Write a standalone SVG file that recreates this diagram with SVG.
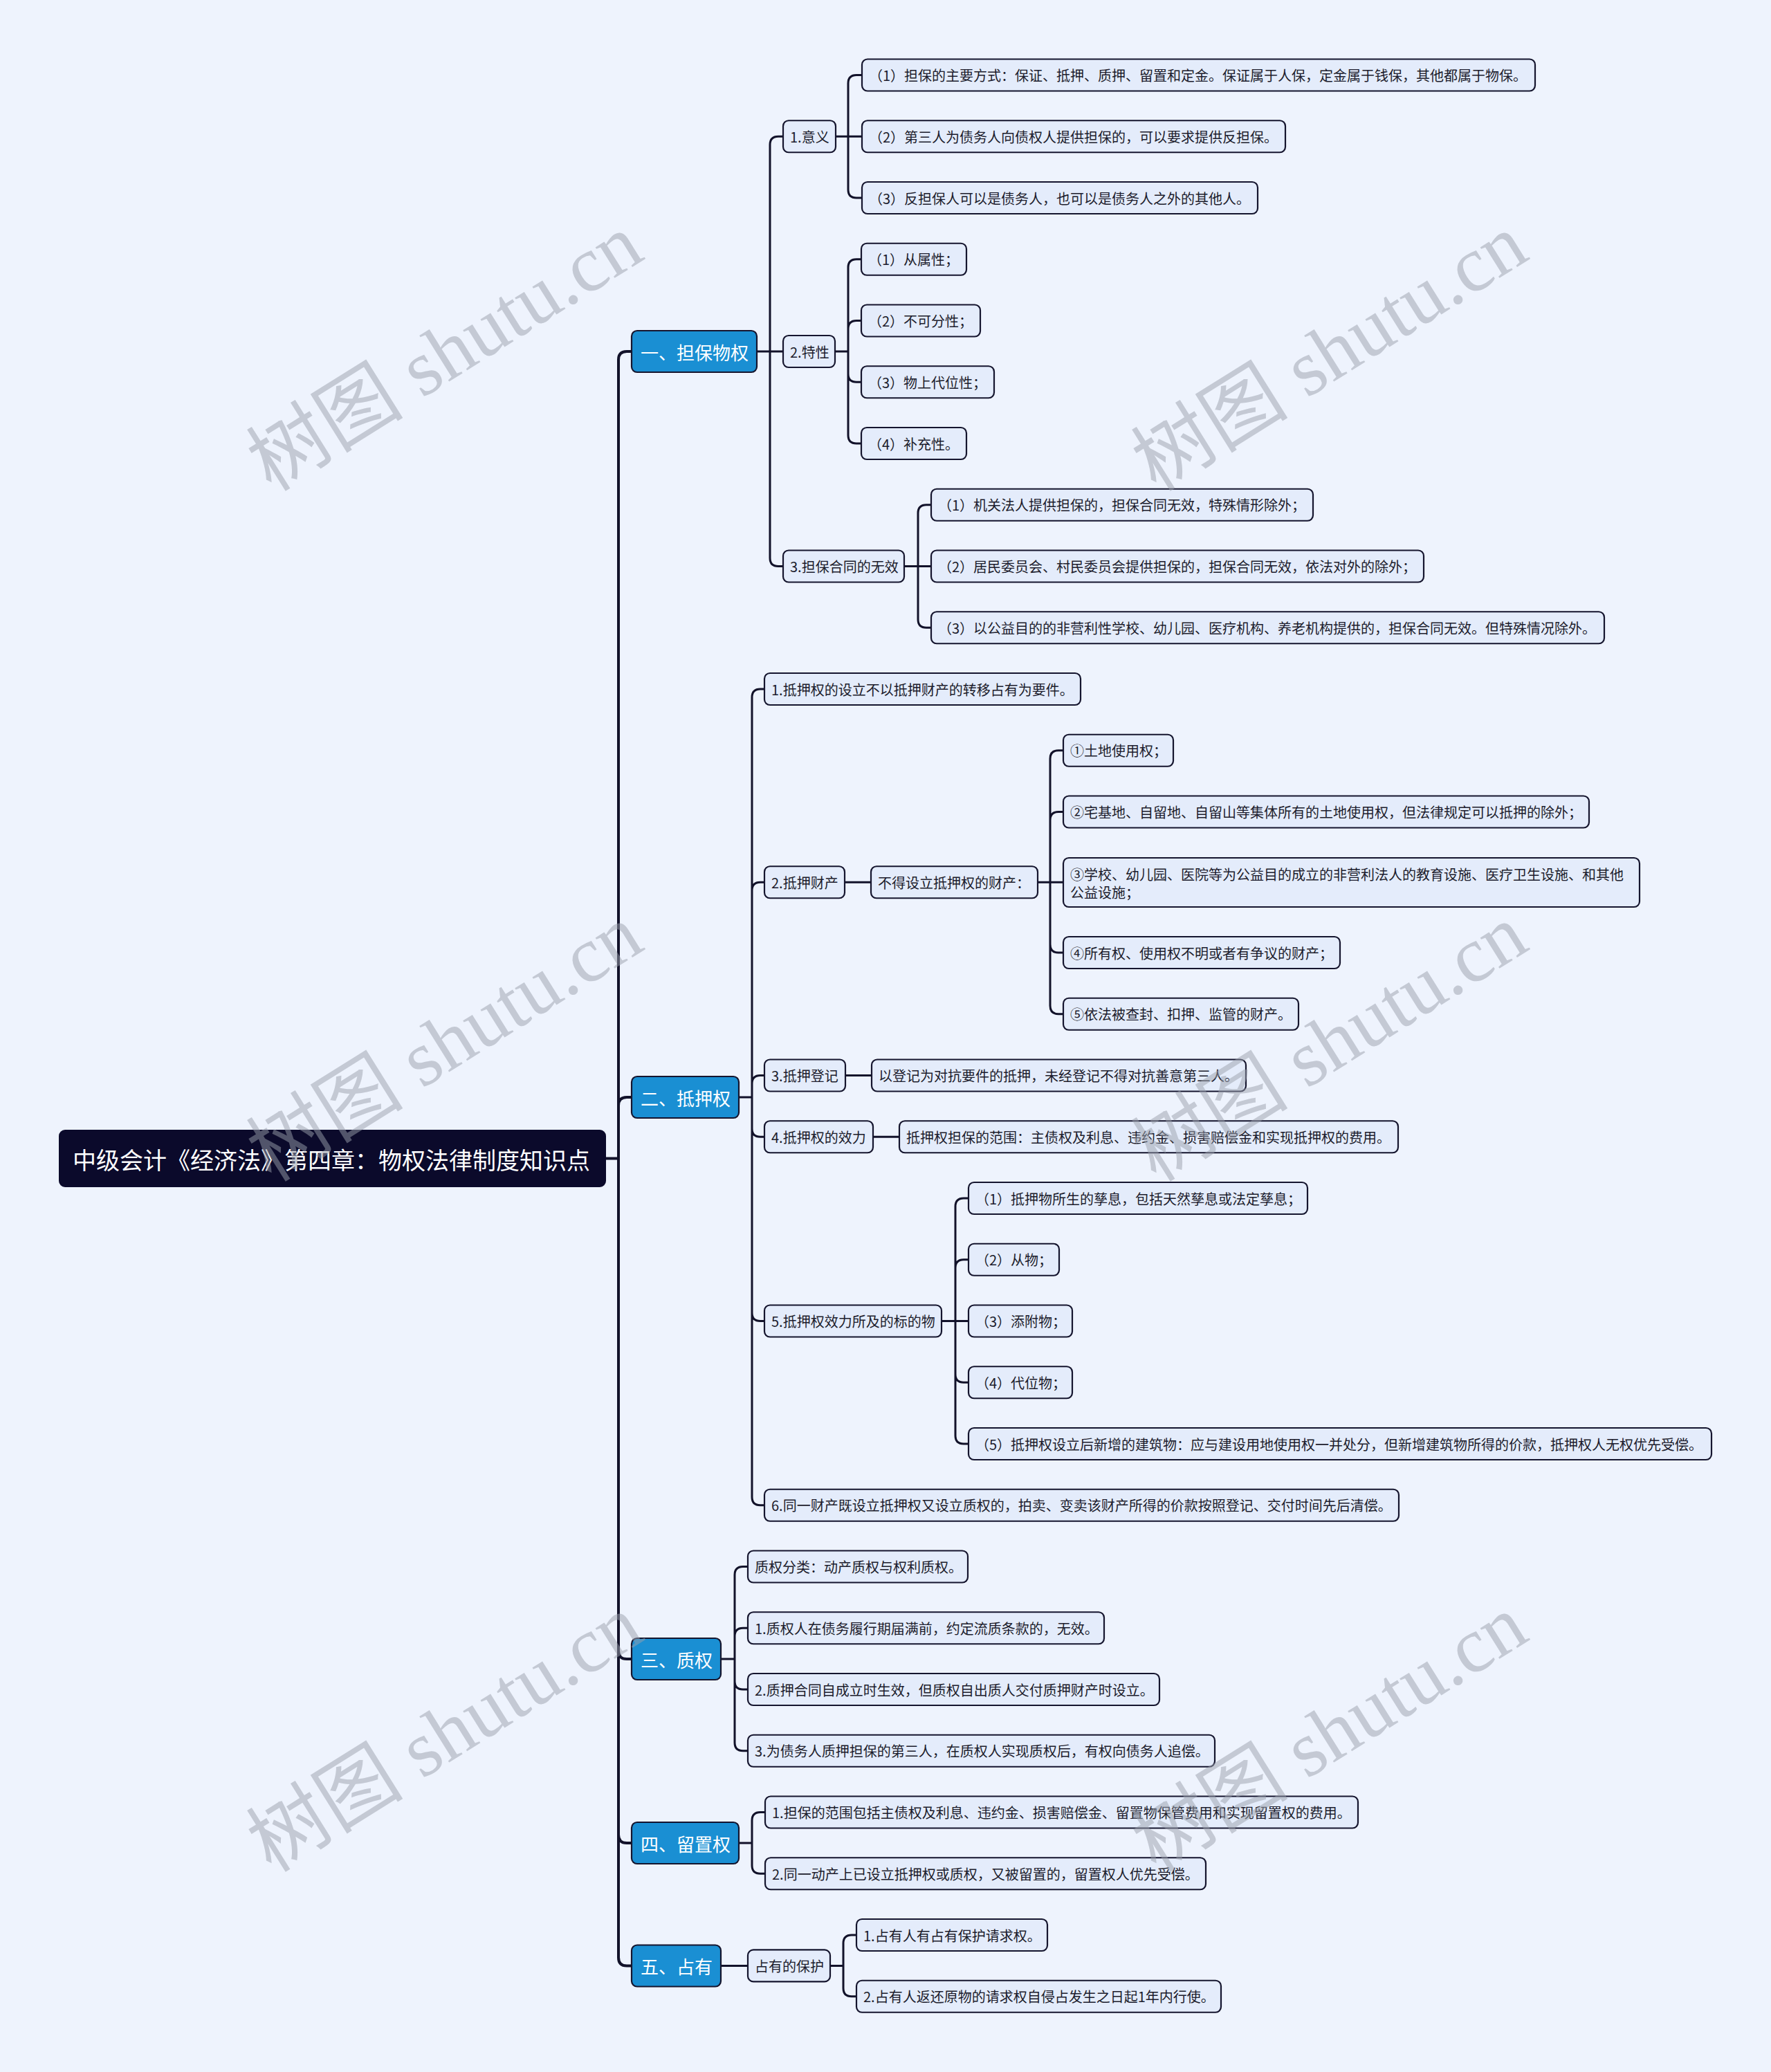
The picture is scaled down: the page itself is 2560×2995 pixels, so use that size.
<svg xmlns="http://www.w3.org/2000/svg" width="2560" height="2995" viewBox="0 0 2560 2995">
<style>
.bg{fill:#eef3fd}
.leaf rect{fill:#e4ecfb;stroke:#15152e;stroke-width:2.2}
.leaf text{font-family:"Noto Sans CJK SC","Liberation Sans",sans-serif;font-size:20px;fill:#1c1c2c;dominant-baseline:central}
.main rect{fill:#1a8fd3;stroke:#15152e;stroke-width:2.2}
.main text{font-family:"Noto Sans CJK SC","Liberation Sans",sans-serif;font-size:26px;fill:#ffffff;dominant-baseline:central}
.root rect{fill:#0b0a2b;stroke:#0b0a2b;stroke-width:2}
.root text{font-family:"Noto Sans CJK SC","Liberation Sans",sans-serif;font-size:34px;fill:#ffffff;dominant-baseline:central}
.conn path{fill:none;stroke:#12122a;stroke-width:3;stroke-linecap:round;stroke-linejoin:round}
.wm text{font-family:"Liberation Serif","Noto Sans CJK SC",serif;font-size:114px;fill:#9aa0ab;fill-opacity:0.5;text-anchor:middle;dominant-baseline:central}
</style>
<rect class="bg" x="0" y="0" width="2560" height="2995"/>

<g id="connectors" class="conn">
<path style="stroke-width:4" d="M875,1674.6 H894 M894,1674.6 V520 Q894,508 906,508 H913 M894,1674.6 V1598 Q894,1586 906,1586 H913 M894,1674.6 V2386 Q894,2398 906,2398 H913 M894,1674.6 V2652 Q894,2664 906,2664 H913 M894,1674.6 V2829.5 Q894,2841.5 906,2841.5 H913"/>
<path d="M1094,508 H1132 M1113,508 V209.25 Q1113,197.25 1125,197.25 H1132 M1113,508 V806.5 Q1113,818.5 1125,818.5 H1132"/>
<path d="M1208,197.25 H1246 M1226,197.25 V120.5 Q1226,108.5 1238,108.5 H1246 M1226,197.25 V274 Q1226,286 1238,286 H1246"/>
<path d="M1207,508 H1226 M1226,508 V386.75 Q1226,374.75 1238,374.75 H1245 M1226,508 V475.5 Q1226,463.5 1238,463.5 H1245 M1226,508 V540.25 Q1226,552.25 1238,552.25 H1245 M1226,508 V629 Q1226,641 1238,641 H1245"/>
<path d="M1307,818.5 H1346 M1327,818.5 V741.75 Q1327,729.75 1339,729.75 H1346 M1327,818.5 V895.25 Q1327,907.25 1339,907.25 H1346"/>
<path d="M1068,1586 H1087 M1087,1586 V1008 Q1087,996 1099,996 H1105 M1087,1586 V1287.25 Q1087,1275.25 1099,1275.25 H1105 M1087,1586 V1566.5 Q1087,1554.5 1099,1554.5 H1105 M1087,1586 V1631.25 Q1087,1643.25 1099,1643.25 H1105 M1087,1586 V1897.5 Q1087,1909.5 1099,1909.5 H1105 M1087,1586 V2163.75 Q1087,2175.75 1099,2175.75 H1105"/>
<path d="M1221,1275.25 H1259"/>
<path d="M1500,1275.25 H1537 M1518,1275.25 V1096.75 Q1518,1084.75 1530,1084.75 H1537 M1518,1275.25 V1185.5 Q1518,1173.5 1530,1173.5 H1537 M1518,1275.25 V1365 Q1518,1377 1530,1377 H1537 M1518,1275.25 V1453.75 Q1518,1465.75 1530,1465.75 H1537"/>
<path d="M1222,1554.5 H1260"/>
<path d="M1262,1643.25 H1300"/>
<path d="M1361,1909.5 H1400 M1381,1909.5 V1744 Q1381,1732 1393,1732 H1400 M1381,1909.5 V1832.75 Q1381,1820.75 1393,1820.75 H1400 M1381,1909.5 V1986.25 Q1381,1998.25 1393,1998.25 H1400 M1381,1909.5 V2075 Q1381,2087 1393,2087 H1400"/>
<path d="M1042,2398 H1062 M1062,2398 V2276.5 Q1062,2264.5 1074,2264.5 H1081 M1062,2398 V2365.25 Q1062,2353.25 1074,2353.25 H1081 M1062,2398 V2430 Q1062,2442 1074,2442 H1081 M1062,2398 V2518.75 Q1062,2530.75 1074,2530.75 H1081"/>
<path d="M1068,2664 H1087 M1087,2664 V2631.5 Q1087,2619.5 1099,2619.5 H1106 M1087,2664 V2696.25 Q1087,2708.25 1099,2708.25 H1106"/>
<path d="M1042,2841.5 H1081"/>
<path d="M1200,2841.4 H1219 M1219,2841.4 V2809 Q1219,2797 1231,2797 H1238 M1219,2841.4 V2873.75 Q1219,2885.75 1231,2885.75 H1238"/>
</g>

<g id="root" class="root"><rect x="86" y="1634" width="789" height="81" rx="8"/><text x="105" y="1675">中级会计《经济法》第四章：物权法律制度知识点</text></g>

<g id="n1" class="main"><rect x="913" y="478" width="181" height="60" rx="8"/><text x="926" y="508">一、担保物权</text></g>
<g id="n2" class="main"><rect x="913" y="1556" width="155" height="60" rx="8"/><text x="926" y="1586">二、抵押权</text></g>
<g id="n3" class="main"><rect x="913" y="2368" width="129" height="60" rx="8"/><text x="926" y="2398">三、质权</text></g>
<g id="n4" class="main"><rect x="913" y="2634" width="155" height="60" rx="8"/><text x="926" y="2664">四、留置权</text></g>
<g id="n5" class="main"><rect x="913" y="2811.5" width="129" height="60" rx="8"/><text x="926" y="2841.5">五、占有</text></g>

<g id="n1-1" class="leaf"><rect x="1132" y="174.25" width="76" height="46" rx="8"/><text x="1142" y="197.25">1.意义</text></g>
<g id="n1-2" class="leaf"><rect x="1132" y="485" width="75" height="46" rx="8"/><text x="1142" y="508">2.特性</text></g>
<g id="n1-3" class="leaf"><rect x="1132" y="795.5" width="175" height="46" rx="8"/><text x="1142" y="818.5">3.担保合同的无效</text></g>

<g id="n1-1-1" class="leaf"><rect x="1246" y="85.5" width="973" height="46" rx="8"/><text x="1256" y="108.5">（1）担保的主要方式：保证、抵押、质押、留置和定金。保证属于人保，定金属于钱保，其他都属于物保。</text></g>
<g id="n1-1-2" class="leaf"><rect x="1246" y="174.25" width="612" height="46" rx="8"/><text x="1256" y="197.25">（2）第三人为债务人向债权人提供担保的，可以要求提供反担保。</text></g>
<g id="n1-1-3" class="leaf"><rect x="1246" y="263" width="572" height="46" rx="8"/><text x="1256" y="286">（3）反担保人可以是债务人，也可以是债务人之外的其他人。</text></g>

<g id="n1-2-1" class="leaf"><rect x="1245" y="351.75" width="152" height="46" rx="8"/><text x="1255" y="374.75">（1）从属性；</text></g>
<g id="n1-2-2" class="leaf"><rect x="1245" y="440.5" width="172" height="46" rx="8"/><text x="1255" y="463.5">（2）不可分性；</text></g>
<g id="n1-2-3" class="leaf"><rect x="1245" y="529.25" width="192" height="46" rx="8"/><text x="1255" y="552.25">（3）物上代位性；</text></g>
<g id="n1-2-4" class="leaf"><rect x="1245" y="618" width="152" height="46" rx="8"/><text x="1255" y="641">（4）补充性。</text></g>

<g id="n1-3-1" class="leaf"><rect x="1346" y="706.75" width="552" height="46" rx="8"/><text x="1356" y="729.75">（1）机关法人提供担保的，担保合同无效，特殊情形除外；</text></g>
<g id="n1-3-2" class="leaf"><rect x="1346" y="795.5" width="712" height="46" rx="8"/><text x="1356" y="818.5">（2）居民委员会、村民委员会提供担保的，担保合同无效，依法对外的除外；</text></g>
<g id="n1-3-3" class="leaf"><rect x="1346" y="884.25" width="973" height="46" rx="8"/><text x="1356" y="907.25">（3）以公益目的的非营利性学校、幼儿园、医疗机构、养老机构提供的，担保合同无效。但特殊情况除外。</text></g>

<g id="n2-1" class="leaf"><rect x="1105" y="973" width="457" height="46" rx="8"/><text x="1115" y="996">1.抵押权的设立不以抵押财产的转移占有为要件。</text></g>
<g id="n2-2" class="leaf"><rect x="1105" y="1252.25" width="116" height="46" rx="8"/><text x="1115" y="1275.25">2.抵押财产</text></g>
<g id="n2-2-1" class="leaf"><rect x="1259" y="1252.25" width="241" height="46" rx="8"/><text x="1269" y="1275.25">不得设立抵押权的财产：</text></g>
<g id="n2-2-1-1" class="leaf"><rect x="1537" y="1061.75" width="159" height="46" rx="8"/><text x="1547" y="1084.75">①土地使用权；</text></g>
<g id="n2-2-1-2" class="leaf"><rect x="1537" y="1150.5" width="760" height="46" rx="8"/><text x="1547" y="1173.5">②宅基地、自留地、自留山等集体所有的土地使用权，但法律规定可以抵押的除外；</text></g>
<g id="n2-2-1-3" class="leaf"><rect x="1537" y="1240" width="833" height="71" rx="8"/><text x="1547" y="1263">③学校、幼儿园、医院等为公益目的成立的非营利法人的教育设施、医疗卫生设施、和其他</text><text x="1547" y="1289">公益设施；</text></g>
<g id="n2-2-1-4" class="leaf"><rect x="1537" y="1354" width="400" height="46" rx="8"/><text x="1547" y="1377">④所有权、使用权不明或者有争议的财产；</text></g>
<g id="n2-2-1-5" class="leaf"><rect x="1537" y="1442.75" width="340" height="46" rx="8"/><text x="1547" y="1465.75">⑤依法被查封、扣押、监管的财产。</text></g>
<g id="n2-3" class="leaf"><rect x="1105" y="1531.5" width="117" height="46" rx="8"/><text x="1115" y="1554.5">3.抵押登记</text></g>
<g id="n2-3-1" class="leaf"><rect x="1260" y="1531.5" width="541" height="46" rx="8"/><text x="1270" y="1554.5">以登记为对抗要件的抵押，未经登记不得对抗善意第三人。</text></g>
<g id="n2-4" class="leaf"><rect x="1105" y="1620.25" width="157" height="46" rx="8"/><text x="1115" y="1643.25">4.抵押权的效力</text></g>
<g id="n2-4-1" class="leaf"><rect x="1300" y="1620.25" width="721" height="46" rx="8"/><text x="1310" y="1643.25">抵押权担保的范围：主债权及利息、违约金、损害赔偿金和实现抵押权的费用。</text></g>
<g id="n2-5" class="leaf"><rect x="1105" y="1886.5" width="256" height="46" rx="8"/><text x="1115" y="1909.5">5.抵押权效力所及的标的物</text></g>
<g id="n2-5-1" class="leaf"><rect x="1400" y="1709" width="490" height="46" rx="8"/><text x="1410" y="1732">（1）抵押物所生的孳息，包括天然孳息或法定孳息；</text></g>
<g id="n2-5-2" class="leaf"><rect x="1400" y="1797.75" width="131" height="46" rx="8"/><text x="1410" y="1820.75">（2）从物；</text></g>
<g id="n2-5-3" class="leaf"><rect x="1400" y="1886.5" width="150" height="46" rx="8"/><text x="1410" y="1909.5">（3）添附物；</text></g>
<g id="n2-5-4" class="leaf"><rect x="1400" y="1975.25" width="150" height="46" rx="8"/><text x="1410" y="1998.25">（4）代位物；</text></g>
<g id="n2-5-5" class="leaf"><rect x="1400" y="2064" width="1074" height="46" rx="8"/><text x="1410" y="2087">（5）抵押权设立后新增的建筑物：应与建设用地使用权一并处分，但新增建筑物所得的价款，抵押权人无权优先受偿。</text></g>
<g id="n2-6" class="leaf"><rect x="1105" y="2152.75" width="917" height="46" rx="8"/><text x="1115" y="2175.75">6.同一财产既设立抵押权又设立质权的，拍卖、变卖该财产所得的价款按照登记、交付时间先后清偿。</text></g>

<g id="n3-1" class="leaf"><rect x="1081" y="2241.5" width="318" height="46" rx="8"/><text x="1091" y="2264.5">质权分类：动产质权与权利质权。</text></g>
<g id="n3-2" class="leaf"><rect x="1081" y="2330.25" width="515" height="46" rx="8"/><text x="1091" y="2353.25">1.质权人在债务履行期届满前，约定流质条款的，无效。</text></g>
<g id="n3-3" class="leaf"><rect x="1081" y="2419" width="595" height="46" rx="8"/><text x="1091" y="2442">2.质押合同自成立时生效，但质权自出质人交付质押财产时设立。</text></g>
<g id="n3-4" class="leaf"><rect x="1081" y="2507.75" width="675" height="46" rx="8"/><text x="1091" y="2530.75">3.为债务人质押担保的第三人，在质权人实现质权后，有权向债务人追偿。</text></g>

<g id="n4-1" class="leaf"><rect x="1106" y="2596.5" width="857" height="46" rx="8"/><text x="1116" y="2619.5">1.担保的范围包括主债权及利息、违约金、损害赔偿金、留置物保管费用和实现留置权的费用。</text></g>
<g id="n4-2" class="leaf"><rect x="1106" y="2685.25" width="637" height="46" rx="8"/><text x="1116" y="2708.25">2.同一动产上已设立抵押权或质权，又被留置的，留置权人优先受偿。</text></g>

<g id="n5-1" class="leaf"><rect x="1081" y="2818.4" width="119" height="46" rx="8"/><text x="1091" y="2841.4">占有的保护</text></g>
<g id="n5-1-1" class="leaf"><rect x="1238" y="2774" width="276" height="46" rx="8"/><text x="1248" y="2797">1.占有人有占有保护请求权。</text></g>
<g id="n5-1-2" class="leaf"><rect x="1238" y="2862.75" width="527" height="46" rx="8"/><text x="1248" y="2885.75">2.占有人返还原物的请求权自侵占发生之日起1年内行使。</text></g>

<g id="watermark" class="wm">
<text transform="translate(643,510) rotate(-32)">树图 shutu.cn</text>
<text transform="translate(1922,510) rotate(-32)">树图 shutu.cn</text>
<text transform="translate(643,1508) rotate(-32)">树图 shutu.cn</text>
<text transform="translate(1922,1508) rotate(-32)">树图 shutu.cn</text>
<text transform="translate(643,2506) rotate(-32)">树图 shutu.cn</text>
<text transform="translate(1922,2506) rotate(-32)">树图 shutu.cn</text>
</g>
</svg>
